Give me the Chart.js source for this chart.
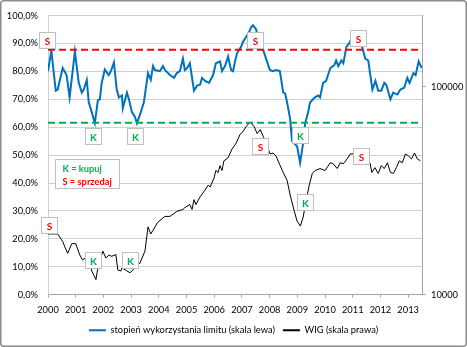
<!DOCTYPE html>
<html>
<head>
<meta charset="utf-8">
<script src="https://cdn.jsdelivr.net/npm/chart.js@4.4.1/dist/chart.umd.min.js"></script>
<style>
  html, body { margin: 0; padding: 0; background: #ffffff; }
  #wrap { width: 467px; height: 347px; }
</style>
</head>
<body>
<div id="wrap"><canvas id="c" width="467" height="347"></canvas></div>
<script>
// ---------------- DATA ----------------
const yearTicks = [2000, 2001, 2002, 2003, 2004, 2005, 2006, 2007, 2008, 2009, 2010, 2011, 2012, 2013];
const pctTicks = [0, 10, 20, 30, 40, 50, 60, 70, 80, 90, 100];
const wigTicks = [10000, 100000];

// stopień wykorzystania limitu (%), left axis
const limitDates = [
  2000.00, 2000.12, 2000.28, 2000.35, 2000.53, 2000.67, 2000.78, 2000.97, 2001.11, 2001.22,
  2001.29, 2001.40, 2001.47, 2001.58, 2001.69, 2001.80, 2001.87, 2001.94, 2002.05, 2002.19,
  2002.27, 2002.38, 2002.48, 2002.56, 2002.67, 2002.70, 2002.85, 2002.92, 2003.03, 2003.14,
  2003.21, 2003.35, 2003.46, 2003.61, 2003.71, 2003.79, 2003.86, 2004.04, 2004.15, 2004.22,
  2004.40, 2004.55, 2004.65, 2004.76, 2004.87, 2004.94, 2005.02, 2005.12, 2005.27, 2005.38,
  2005.49, 2005.56, 2005.67, 2005.81, 2005.96, 2006.06, 2006.21, 2006.28, 2006.39, 2006.50,
  2006.61, 2006.68, 2006.75, 2006.82, 2006.97, 2007.04, 2007.15, 2007.26, 2007.33, 2007.40,
  2007.51, 2007.58, 2007.73, 2007.87, 2008.01, 2008.12, 2008.23, 2008.37, 2008.49, 2008.56,
  2008.63, 2008.74, 2008.81, 2008.88, 2008.99, 2009.10, 2009.21, 2009.28, 2009.39, 2009.46,
  2009.57, 2009.64, 2009.75, 2009.82, 2009.93, 2010.04, 2010.19, 2010.33, 2010.40, 2010.48,
  2010.59, 2010.66, 2010.77, 2010.88, 2010.98, 2011.20, 2011.34, 2011.45, 2011.56, 2011.71,
  2011.82, 2011.92, 2012.03, 2012.14, 2012.21, 2012.36, 2012.46, 2012.61, 2012.72, 2012.86,
  2012.97, 2013.05, 2013.19, 2013.27, 2013.38, 2013.49
];
const limitValues = [
  80.1, 87.4, 73.1, 73.5, 81.2, 78.7, 70.7, 87.1, 75.9, 72.4,
  73.5, 76.9, 69.0, 65.4, 61.5, 69.6, 70.0, 75.9, 80.7, 78.7,
  80.1, 83.2, 73.5, 70.7, 71.4, 66.8, 72.4, 70.0, 65.4, 63.7,
  61.4, 65.4, 68.9, 79.4, 77.0, 81.9, 80.5, 80.1, 81.9, 80.5,
  78.7, 77.7, 79.4, 80.1, 84.6, 80.5, 81.2, 82.9, 73.1, 74.9,
  75.2, 77.7, 76.6, 75.9, 78.7, 82.9, 83.6, 80.1, 81.9, 85.3,
  80.5, 80.1, 83.6, 86.4, 88.8, 90.6, 92.3, 94.1, 95.8, 96.5,
  95.1, 92.3, 88.8, 84.6, 80.5, 80.1, 80.5, 80.1, 72.4, 72.1,
  68.9, 63.0, 55.0, 54.3, 53.2, 47.3, 54.3, 61.3, 65.4, 68.9,
  70.0, 70.7, 71.4, 70.7, 75.9, 76.6, 81.2, 82.2, 83.9, 81.9,
  83.9, 82.9, 88.8, 90.2, 92.3, 93.4, 88.8, 84.6, 83.9, 73.5,
  76.6, 73.1, 73.1, 75.9, 75.2, 70.0, 72.4, 71.7, 73.5, 74.2,
  77.7, 75.9, 79.4, 78.7, 83.6, 81.2
];

// WIG index, right (log) axis
const wigDates = [
  2000.00, 2000.35, 2000.53, 2000.71, 2000.86, 2001.00, 2001.15, 2001.25, 2001.44, 2001.58,
  2001.73, 2001.80, 2001.98, 2002.09, 2002.20, 2002.30, 2002.45, 2002.52, 2002.63, 2002.67,
  2002.96, 2003.32, 2003.50, 2003.61, 2003.71, 2003.82, 2003.96, 2004.22, 2004.40, 2004.65,
  2004.87, 2004.94, 2005.12, 2005.20, 2005.27, 2005.34, 2005.49, 2005.67, 2005.78, 2005.85,
  2005.99, 2006.06, 2006.14, 2006.21, 2006.28, 2006.35, 2006.50, 2006.64, 2006.79, 2006.93,
  2007.04, 2007.15, 2007.29, 2007.44, 2007.55, 2007.66, 2007.77, 2008.02, 2008.12, 2008.23,
  2008.38, 2008.49, 2008.63, 2008.74, 2008.88, 2008.99, 2009.11, 2009.21, 2009.32, 2009.43,
  2009.54, 2009.64, 2009.82, 2010.00, 2010.19, 2010.29, 2010.44, 2010.55, 2010.66, 2010.80,
  2010.91, 2011.26, 2011.62, 2011.69, 2011.80, 2011.92, 2012.03, 2012.14, 2012.25, 2012.36,
  2012.47, 2012.57, 2012.68, 2012.79, 2012.90, 2013.01, 2013.12, 2013.23, 2013.33, 2013.44
];
const wigValues = [
  19600, 19600, 18000, 15800, 17600, 17600, 15500, 14700, 15300, 13000,
  11820, 13450, 16200, 15000, 15500, 15300, 15600, 13160, 13000, 13450,
  12750, 14200, 16200, 21200, 19600, 20700, 22300, 23800, 23800, 25150,
  25700, 26250, 27120, 25700, 28630, 27120, 29560, 31880, 33650, 32940,
  36300, 39550, 38700, 41750, 39550, 44050, 45500, 50150, 53500, 58950,
  60900, 64270, 67780, 64270, 59570, 62200, 57700, 47500, 48030, 46500,
  41750, 38730, 35500, 30200, 25500, 22600, 21380, 23570, 28620, 33650,
  38290, 39550, 40430, 39550, 43130, 42660, 40430, 43130, 42660, 45020,
  47520, 48030, 43130, 38730, 40840, 38290, 41750, 40430, 43130, 38730,
  38290, 40840, 44050, 43130, 47520, 46500, 45020, 48030, 45020, 44050
];

// signal thresholds (%)
const sellLevel = 87.8;
const buyLevel = 61.6;

// signal annotations: type, date, level (left-axis %)
const signalTypes = ['S', 'S', 'S', 'K', 'K', 'K', 'S', 'K', 'K', 'S', 'K', 'S'];
const signalDates = [1999.97, 2007.46, 2011.20, 2001.62, 2003.14, 2009.11, 2000.04, 2001.63, 2002.95, 2007.64, 2009.27, 2011.30];
const signalLevels = [91.4, 91.1, 92.0, 56.9, 56.9, 57.1, 25.0, 12.4, 12.4, 53.4, 33.3, 49.6];

const keyTexts = ['K = kupuj', 'S = sprzedaj'];
const keyDate = 2001.40;
const keyLevel = 43.6;

const seriesNames = ['stopień wykorzystania limitu (skala lewa)', 'WIG (skala prawa)'];

// ---------------- CHART ----------------
const FONT = 'Lato, "Open Sans", sans-serif';
const BLUE = '#0070C0';
const RED = '#FF0000';
const GREEN = '#00B050';

const pairs = (xs, ys) => xs.map((x, i) => ({ x: x, y: ys[i] }));

const chartFrame = {
  id: 'chartFrame',
  beforeDraw(chart) {
    const ctx = chart.ctx;
    ctx.save();
    ctx.fillStyle = '#ffffff';
    ctx.fillRect(0, 0, chart.width, chart.height);
    ctx.restore();
  },
  afterDraw(chart) {
    const ctx = chart.ctx;
    ctx.save();
    ctx.strokeStyle = '#8a8a8a';
    ctx.lineWidth = 1.5;
    ctx.beginPath();
    ctx.roundRect(0.75, 0.75, chart.width - 1.5, chart.height - 1.5, 3);
    ctx.stroke();
    ctx.restore();
  }
};

const signalBoxes = {
  id: 'signalBoxes',
  afterDatasetsDraw(chart) {
    const ctx = chart.ctx;
    const xs = chart.scales.x, ys = chart.scales.y;
    ctx.save();
    ctx.textAlign = 'center';
    ctx.textBaseline = 'middle';
    ctx.font = 'bold 10px ' + FONT;
    signalTypes.forEach((t, i) => {
      const cx = xs.getPixelForValue(signalDates[i]);
      const cy = ys.getPixelForValue(signalLevels[i]);
      const w = 16, h = 16;
      ctx.fillStyle = '#ffffff';
      ctx.fillRect(Math.round(cx - w / 2) + 0.5, Math.round(cy - h / 2) + 0.5, w, h);
      ctx.strokeStyle = '#bfbfbf';
      ctx.lineWidth = 1;
      ctx.strokeRect(Math.round(cx - w / 2) + 0.5, Math.round(cy - h / 2) + 0.5, w, h);
      ctx.fillStyle = t === 'S' ? RED : GREEN;
      ctx.fillText(t, Math.round(cx) + 0.5, Math.round(cy) + 1.5);
    });
    // key box
    const kx = xs.getPixelForValue(keyDate);
    const ky = ys.getPixelForValue(keyLevel);
    const kw = 64, kh = 29;
    const left = Math.round(kx - kw / 2) + 0.5, top = Math.round(ky - kh / 2) + 0.5;
    ctx.fillStyle = '#ffffff';
    ctx.fillRect(left, top, kw, kh);
    ctx.strokeStyle = '#bfbfbf';
    ctx.strokeRect(left, top, kw, kh);
    ctx.textAlign = 'left';
    ctx.font = 'bold 9.3px ' + FONT;
    ctx.fillStyle = GREEN;
    ctx.fillText(keyTexts[0], left + 7, top + 9.5);
    ctx.fillStyle = RED;
    ctx.fillText(keyTexts[1], left + 7, top + 22);
    ctx.restore();
  }
};

const chart = new Chart(document.getElementById('c'), {
  type: 'line',
  data: {
    datasets: [
      {
        label: seriesNames[0],
        data: pairs(limitDates, limitValues),
        yAxisID: 'y',
        borderColor: BLUE,
        backgroundColor: BLUE,
        borderWidth: 2,
        pointRadius: 0,
        tension: 0,
        order: 2
      },
      {
        label: seriesNames[1],
        data: pairs(wigDates, wigValues),
        yAxisID: 'y1',
        borderColor: '#000000',
        backgroundColor: '#000000',
        borderWidth: 1,
        pointRadius: 0,
        tension: 0,
        order: 3
      },
      {
        label: 'sell',
        data: [{ x: 2000, y: sellLevel }, { x: 2013.5, y: sellLevel }],
        yAxisID: 'y',
        borderColor: RED,
        borderWidth: 2,
        borderDash: [7, 4],
        pointRadius: 0,
        order: 1
      },
      {
        label: 'buy',
        data: [{ x: 2000, y: buyLevel }, { x: 2013.5, y: buyLevel }],
        yAxisID: 'y',
        borderColor: GREEN,
        borderWidth: 2,
        borderDash: [7, 4],
        pointRadius: 0,
        order: 1
      }
    ]
  },
  options: {
    responsive: false,
    devicePixelRatio: 1,
    animation: false,
    events: [],
    layout: { padding: { left: 0, right: 0, top: 11, bottom: 2 } },
    font: { family: FONT },
    plugins: {
      tooltip: { enabled: false },
      legend: {
        position: 'bottom',
        labels: {
          font: { family: FONT, size: 9.3 },
          color: '#000000',
          boxWidth: 17,
          boxHeight: 2,
          padding: 8,
          filter: (item) => item.datasetIndex < 2,
          generateLabels: (chart) => chart.data.datasets.map((ds, i) => ({
            text: ds.label,
            fillStyle: ds.borderColor,
            strokeStyle: ds.borderColor,
            lineWidth: 0,
            hidden: false,
            datasetIndex: i
          }))
        }
      }
    },
    scales: {
      x: {
        type: 'linear',
        min: 2000,
        max: 2013.5,
        afterBuildTicks: (s) => { s.ticks = yearTicks.map(v => ({ value: v })); },
        afterFit: (s) => { s.height = 23; },
        ticks: {
          callback: (v) => String(v),
          autoSkip: false,
          maxRotation: 0,
          padding: 7,
          color: '#000000',
          font: { family: FONT, size: 9.3 }
        },
        grid: { drawOnChartArea: false, drawTicks: true, tickLength: 3, color: '#a6a6a6' },
        border: { color: '#a6a6a6' }
      },
      y: {
        type: 'linear',
        position: 'left',
        min: 0,
        max: 100,
        afterBuildTicks: (s) => { s.ticks = pctTicks.map(v => ({ value: v })); },
        afterFit: (s) => { s.width = 48; },
        ticks: {
          callback: (v) => v.toFixed(1).replace('.', ',') + '%',
          padding: 10,
          color: '#000000',
          font: { family: FONT, size: 9.3 }
        },
        grid: { color: '#d0d0d0', drawTicks: false },
        border: { color: '#d0d0d0' }
      },
      y1: {
        type: 'logarithmic',
        position: 'right',
        min: 10000,
        max: 220000,
        afterBuildTicks: (s) => { s.ticks = wigTicks.map(v => ({ value: v })); },
        afterFit: (s) => { s.width = 45; },
        ticks: {
          callback: (v) => String(v),
          padding: 5,
          color: '#000000',
          font: { family: FONT, size: 9.3 }
        },
        grid: { drawOnChartArea: false, drawTicks: true, tickLength: 4, color: '#a6a6a6' },
        border: { color: '#a6a6a6' }
      }
    }
  },
  plugins: [chartFrame, signalBoxes]
});
</script>
</body>
</html>
